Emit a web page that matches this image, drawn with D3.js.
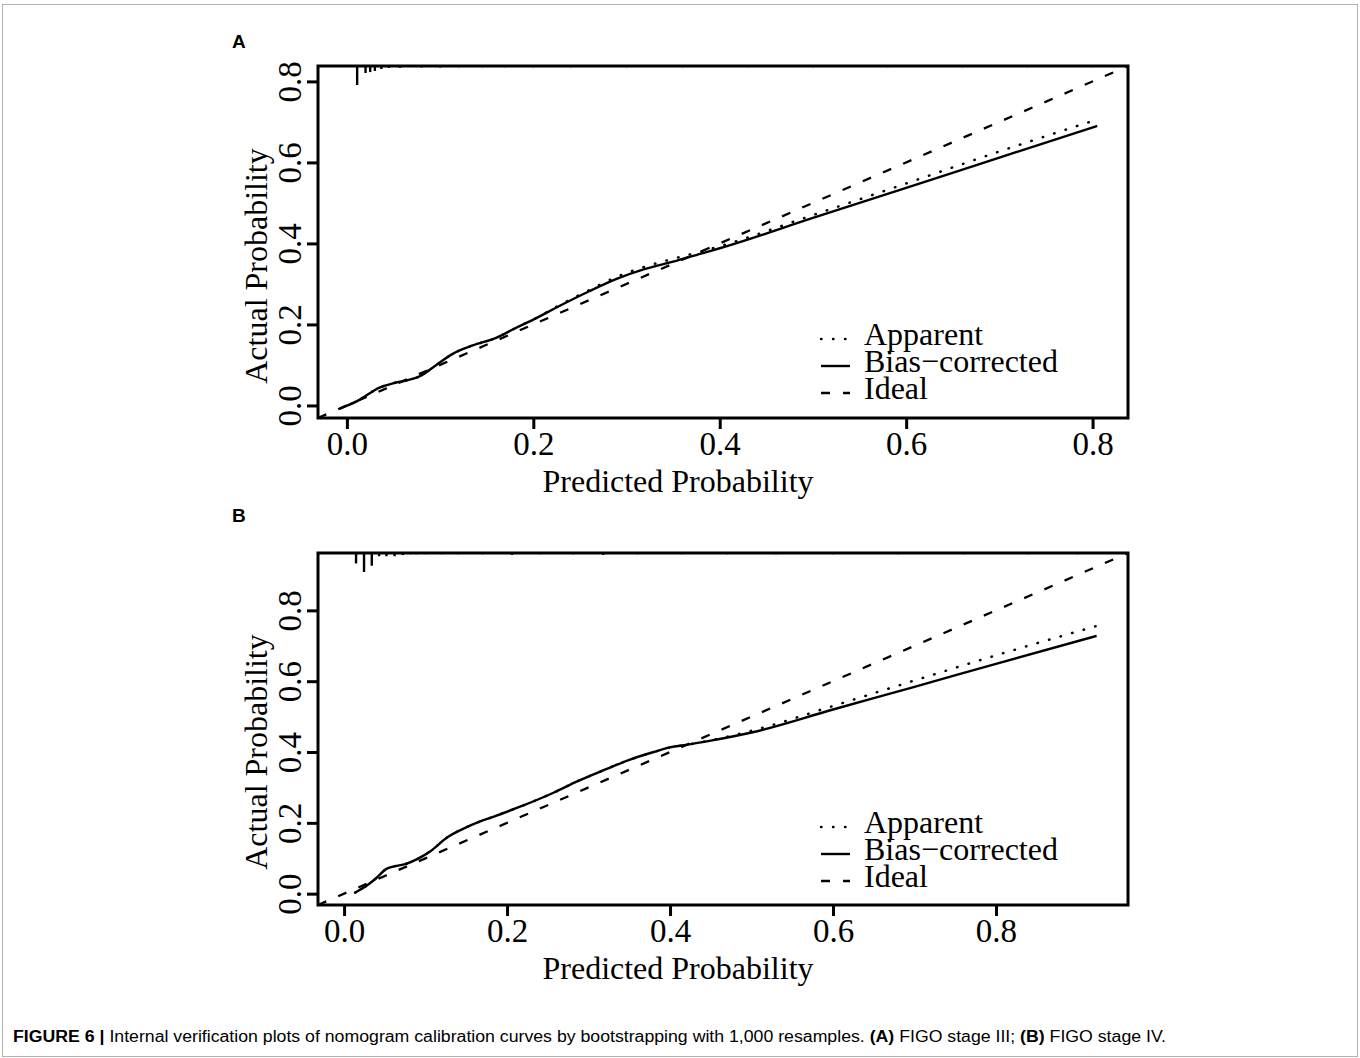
<!DOCTYPE html>
<html>
<head>
<meta charset="utf-8">
<script src="https://cdn.jsdelivr.net/npm/d3@7"></script>
<style>
  body { margin: 0; background: #fff; }
  svg text { fill: #000; }
</style>
</head>
<body>
<div id="chart"></div>
<script>
// ---- data ----
var axisTicks = [0, 0.2, 0.4, 0.6, 0.8];
var seriesNames = ["Apparent", "Bias\u2212corrected", "Ideal"];

// panel A : FIGO stage III
var domainA = [-0.031, 0.838];
var predA     = [-0.007, 0.012, 0.035, 0.05, 0.064, 0.08, 0.093, 0.114, 0.135, 0.16, 0.18, 0.2, 0.23, 0.26, 0.29, 0.32, 0.35, 0.38, 0.4, 0.5, 0.6, 0.7, 0.805];
var biasA     = [-0.007, 0.012, 0.044, 0.055, 0.062, 0.074, 0.095, 0.128, 0.148, 0.167, 0.19, 0.212, 0.248, 0.282, 0.313, 0.337, 0.355, 0.375, 0.388, 0.463, 0.537, 0.612, 0.69];
var apparentA = [-0.007, 0.012, 0.044, 0.055, 0.062, 0.074, 0.095, 0.128, 0.148, 0.167, 0.19, 0.212, 0.25, 0.285, 0.318, 0.343, 0.362, 0.38, 0.393, 0.47, 0.548, 0.627, 0.706];
var rugXA = [0.011, 0.02, 0.025, 0.03, 0.037, 0.045, 0.057, 0.08, 0.1, 0.12, 0.145, 0.17, 0.2, 0.24, 0.3, 0.36, 0.43, 0.5, 0.58, 0.66, 0.73, 0.8];
var rugHA = [1.0, 0.37, 0.32, 0.26, 0.16, 0.1, 0.1, 0.08, 0.08, 0.06, 0.06, 0.05, 0.06, 0.05, 0.05, 0.05, 0.05, 0.05, 0.05, 0.05, 0.05, 0.06];

// panel B : FIGO stage IV
var domainB = [-0.032, 0.962];
var predB     = [0.0135, 0.028, 0.04, 0.052, 0.077, 0.089, 0.106, 0.126, 0.146, 0.167, 0.183, 0.212, 0.257, 0.286, 0.32, 0.35, 0.38, 0.4, 0.42, 0.45, 0.5, 0.6, 0.7, 0.8, 0.9235];
var biasB     = [0.003, 0.023, 0.045, 0.07, 0.085, 0.097, 0.12, 0.158, 0.183, 0.204, 0.217, 0.242, 0.285, 0.317, 0.35, 0.378, 0.4, 0.413, 0.42, 0.432, 0.455, 0.52, 0.584, 0.649, 0.728];
var apparentB = [0.003, 0.023, 0.045, 0.07, 0.085, 0.097, 0.12, 0.158, 0.183, 0.204, 0.217, 0.242, 0.285, 0.317, 0.35, 0.378, 0.4, 0.413, 0.42, 0.433, 0.46, 0.53, 0.602, 0.673, 0.756];
var rugXB = [0.0147, 0.0245, 0.034, 0.043, 0.052, 0.062, 0.072, 0.082, 0.089, 0.1, 0.12, 0.14, 0.17, 0.206, 0.24, 0.281, 0.318, 0.36, 0.414, 0.47, 0.53, 0.6, 0.68, 0.76, 0.84, 0.9];
var rugHB = [0.55, 1.0, 0.67, 0.17, 0.17, 0.17, 0.11, 0.06, 0.06, 0.05, 0.05, 0.05, 0.05, 0.1, 0.05, 0.06, 0.1, 0.05, 0.06, 0.05, 0.05, 0.05, 0.05, 0.05, 0.05, 0.05];

var caption = "FIGURE 6 |";
var captionText = " Internal verification plots of nomogram calibration curves by bootstrapping with 1,000 resamples. ";

var W = 1360, H = 1058;
var serif = "'Liberation Serif', 'Times New Roman', serif";

var svg = d3.select("#chart").append("svg")
    .attr("width", W)
    .attr("height", H);

// outer frame
svg.append("rect")
    .attr("x", 2.5).attr("y", 4.5)
    .attr("width", 1355).attr("height", 1052)
    .attr("fill", "none")
    .attr("stroke", "#b0b0b0")
    .attr("stroke-width", 1);

function drawPanel(cfg) {
    var box = cfg.box;
    var x = d3.scaleLinear().domain(cfg.domain).range([box.left, box.right]);
    var y = d3.scaleLinear().domain(cfg.domain).range([box.bottom, box.top]);
    var g = svg.append("g");

    // panel letter
    g.append("text")
        .attr("x", 232).attr("y", cfg.letterY)
        .style("font-family", "'Liberation Sans', Arial, sans-serif")
        .style("font-weight", "bold")
        .style("font-size", "19px")
        .text(cfg.letter);

    var clipId = "clip" + cfg.letter;
    svg.append("clipPath").attr("id", clipId)
      .append("rect")
        .attr("x", box.left).attr("y", box.top)
        .attr("width", box.right - box.left).attr("height", box.bottom - box.top);

    var plot = g.append("g").attr("clip-path", "url(#" + clipId + ")");

    // ideal line y = x across the whole region
    plot.append("line")
        .attr("x1", x(cfg.domain[0])).attr("y1", y(cfg.domain[0]))
        .attr("x2", x(cfg.domain[1])).attr("y2", y(cfg.domain[1]))
        .attr("stroke", "#000")
        .attr("stroke-width", 2.3)
        .attr("stroke-dasharray", "9 13");

    var line = d3.line()
        .curve(d3.curveMonotoneX)
        .x(function(d) { return x(d[0]); })
        .y(function(d) { return y(d[1]); });

    var appData = cfg.pred.map(function(p, i) { return [p, cfg.apparent[i]]; });
    var biasData = cfg.pred.map(function(p, i) { return [p, cfg.bias[i]]; });

    plot.append("path")
        .datum(appData)
        .attr("d", line)
        .attr("fill", "none")
        .attr("stroke", "#000")
        .attr("stroke-width", 2.5)
        .attr("stroke-linecap", "round")
        .attr("stroke-dasharray", "0.5 11.5");

    plot.append("path")
        .datum(biasData)
        .attr("d", line)
        .attr("fill", "none")
        .attr("stroke", "#000")
        .attr("stroke-width", 2.4);

    // spike histogram of predictions hanging from the top
    var spike = d3.scaleLinear().domain([0, 1]).range([0, 19]);
    plot.selectAll("line.rug")
        .data(cfg.rugX)
      .enter().append("line")
        .attr("class", "rug")
        .attr("x1", function(d) { return x(d); })
        .attr("x2", function(d) { return x(d); })
        .attr("y1", box.top)
        .attr("y2", function(d, i) { return box.top + Math.max(1.2, spike(cfg.rugH[i])); })
        .attr("stroke", "#000")
        .attr("stroke-width", 2.4);

    // box
    g.append("rect")
        .attr("x", box.left).attr("y", box.top)
        .attr("width", box.right - box.left).attr("height", box.bottom - box.top)
        .attr("fill", "none")
        .attr("stroke", "#000")
        .attr("stroke-width", 3);

    // axes
    var xAxis = d3.axisBottom(x).tickValues(axisTicks).tickFormat(d3.format(".1f")).tickSize(11).tickPadding(6);
    var yAxis = d3.axisLeft(y).tickValues(axisTicks).tickFormat(d3.format(".1f")).tickSize(11);

    var gx = g.append("g")
        .attr("transform", "translate(0," + box.bottom + ")")
        .call(xAxis);
    gx.select(".domain").remove();
    gx.selectAll(".tick line").attr("stroke-width", 3);
    gx.selectAll(".tick text")
        .style("font-family", serif)
        .style("font-size", "33px")
        .attr("y", 0)
        .attr("dy", 0)
        .attr("transform", "translate(0," + (cfg.xLabelBase - box.bottom) + ")");

    var gy = g.append("g")
        .attr("transform", "translate(" + box.left + ",0)")
        .call(yAxis);
    gy.select(".domain").remove();
    gy.selectAll(".tick line").attr("stroke-width", 3);
    gy.selectAll(".tick text")
        .style("font-family", serif)
        .style("font-size", "33px")
        .attr("x", 0).attr("dy", 0)
        .attr("text-anchor", "middle")
        .attr("transform", "translate(" + (301 - box.left) + ",0) rotate(-90)");

    // axis titles
    g.append("text")
        .attr("x", cfg.xTitleX).attr("y", cfg.xTitleBase)
        .attr("text-anchor", "middle")
        .style("font-family", serif)
        .style("font-size", "32px")
        .text("Predicted Probability");

    g.append("text")
        .attr("transform", "translate(267," + cfg.yTitleY + ") rotate(-90)")
        .attr("text-anchor", "middle")
        .style("font-family", serif)
        .style("font-size", "32px")
        .text("Actual Probability");

    // legend
    var dashes = ["0.5 11.5", null, "9 13"];
    var leg = g.selectAll("g.leg")
        .data(seriesNames)
      .enter().append("g")
        .attr("class", "leg")
        .attr("transform", function(d, i) { return "translate(0," + (cfg.legendBase + i * 27) + ")"; });
    leg.append("line")
        .attr("x1", 821).attr("x2", 850)
        .attr("y1", -6).attr("y2", -6)
        .attr("stroke", "#000")
        .attr("stroke-width", 2.4)
        .attr("stroke-linecap", function(d, i) { return i === 0 ? "round" : "butt"; })
        .attr("stroke-dasharray", function(d, i) { return dashes[i]; });
    leg.append("text")
        .attr("x", 864).attr("y", 0)
        .style("font-family", serif)
        .style("font-size", "32px")
        .text(function(d) { return d; });
}

drawPanel({
    letter: "A", letterY: 48,
    box: {left: 318, right: 1128, top: 66, bottom: 418},
    domain: domainA,
    pred: predA, bias: biasA, apparent: apparentA,
    rugX: rugXA, rugH: rugHA,
    xLabelBase: 455, xTitleX: 678, xTitleBase: 492, yTitleY: 266,
    legendBase: 345
});

drawPanel({
    letter: "B", letterY: 522,
    box: {left: 318, right: 1128, top: 553, bottom: 905},
    domain: domainB,
    pred: predB, bias: biasB, apparent: apparentB,
    rugX: rugXB, rugH: rugHB,
    xLabelBase: 942, xTitleX: 678, xTitleBase: 979, yTitleY: 752,
    legendBase: 833
});

// caption
var cap = svg.append("text")
    .attr("x", 13).attr("y", 1042)
    .attr("textLength", 1153)
    .attr("lengthAdjust", "spacingAndGlyphs")
    .style("font-family", "'Liberation Sans', Arial, sans-serif")
    .style("font-size", "16px");
cap.append("tspan").style("font-weight", "bold").text(caption);
cap.append("tspan").text(captionText);
cap.append("tspan").style("font-weight", "bold").text("(A)");
cap.append("tspan").text(" FIGO stage III; ");
cap.append("tspan").style("font-weight", "bold").text("(B)");
cap.append("tspan").text(" FIGO stage IV.");
</script>
</body>
</html>
